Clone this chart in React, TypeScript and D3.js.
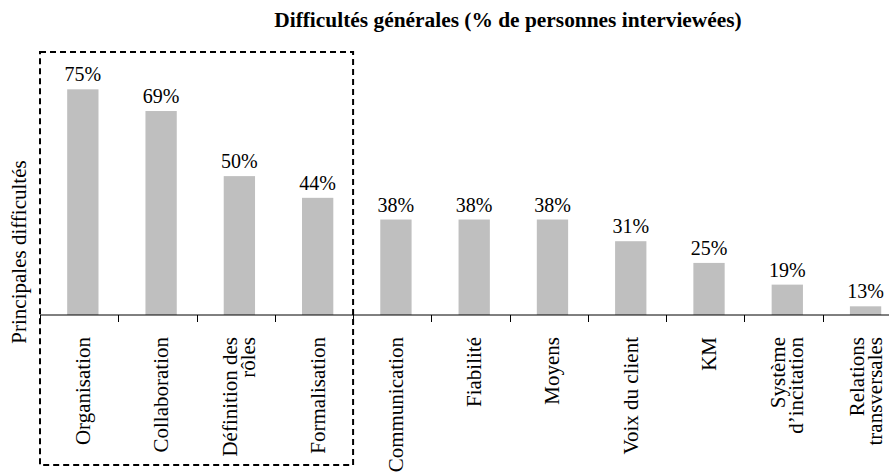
import { useEffect, useRef } from 'react'
import * as d3 from 'd3'

const categories = [
  'Organisation',
  'Collaboration',
  'Définition des rôles',
  'Formalisation',
  'Communication',
  'Fiabilité',
  'Moyens',
  'Voix du client',
  'KM',
  'Système d’incitation',
  'Relations transversales',
]

// axis label lines, as they wrap in the picture
const labelLines = [
  ['Organisation'],
  ['Collaboration'],
  ['Définition des', 'rôles'],
  ['Formalisation'],
  ['Communication'],
  ['Fiabilité'],
  ['Moyens'],
  ['Voix du client'],
  ['KM'],
  ['Système', 'd’incitation'],
  ['Relations', 'transversales'],
]

// share of interviewees (16 people)
const values = [75, 68.75, 50, 43.75, 37.5, 37.5, 37.5, 31.25, 25, 18.75, 12.5]

const highlighted = ['Organisation', 'Collaboration', 'Définition des rôles', 'Formalisation']

const title = 'Difficultés générales (% de personnes interviewées)'
const yTitle = 'Principales difficultés'

const FONT = 'Liberation Serif, Times New Roman, serif'

export default function App() {
  const svgRef = useRef<SVGSVGElement>(null)
  const width = 889
  const height = 472

  useEffect(() => {
    if (!svgRef.current) return
    const svg = d3.select(svgRef.current)
    svg.selectAll('*').remove()

    const baseY = 315
    const x = d3.scaleBand<string>()
      .domain(categories)
      .range([40, 901])
      .paddingInner(0)
      .paddingOuter(0)

    const y = d3.scaleLinear()
      .domain([10, 80])
      .range([baseY, baseY - 70 * 3.472])

    const bw = x.bandwidth()
    const barW = bw * 0.4
    const shift = 3.7
    const center = (c: string) => (x(c) ?? 0) + bw / 2 + shift

    svg.append('rect')
      .attr('width', width)
      .attr('height', height)
      .attr('fill', '#fff')

    const root = svg.append('g').attr('font-family', FONT)

    root.append('text')
      .attr('x', 508)
      .attr('y', 27)
      .attr('text-anchor', 'middle')
      .attr('font-size', 21.4)
      .attr('font-weight', 'bold')
      .text(title)

    root.append('text')
      .attr('transform', `translate(26,252) rotate(-90)`)
      .attr('text-anchor', 'middle')
      .attr('font-size', 21)
      .text(yTitle)

    // bars
    root.append('g')
      .selectAll('rect')
      .data(categories)
      .join('rect')
      .attr('x', d => center(d) - barW / 2)
      .attr('width', barW)
      .attr('y', (d, i) => y(values[i]))
      .attr('height', (d, i) => baseY - y(values[i]))
      .attr('fill', '#bfbfbf')

    // value labels
    root.append('g')
      .selectAll('text')
      .data(categories)
      .join('text')
      .attr('x', d => center(d))
      .attr('y', (d, i) => y(values[i]) - 8)
      .attr('text-anchor', 'middle')
      .attr('font-size', 20)
      .text((d, i) => `${Math.round(values[i])}%`)

    // axis line + boundary ticks
    const axis = root.append('g')
    axis.append('line')
      .attr('x1', 40)
      .attr('x2', 901)
      .attr('y1', baseY)
      .attr('y2', baseY)
      .attr('stroke', '#000')
      .attr('stroke-width', 1)
    const bounds = [...categories.map(c => x(c) ?? 0), 901]
    axis.selectAll('line.tick')
      .data(bounds)
      .join('line')
      .attr('class', 'tick')
      .attr('x1', d => Math.round(d) + 0.5)
      .attr('x2', d => Math.round(d) + 0.5)
      .attr('y1', baseY)
      .attr('y2', baseY + 7)
      .attr('stroke', '#000')

    // category labels, rotated
    const lineGap = 18
    categories.forEach((c, i) => {
      const lines = labelLines[i]
      const cx = center(c)
      lines.forEach((ln, j) => {
        const off = (j - (lines.length - 1) / 2) * lineGap
        root.append('text')
          .attr('transform', `translate(${cx + off + 7},337) rotate(-90)`)
          .attr('text-anchor', 'end')
          .attr('font-size', 21)
          .text(ln)
      })
    })

    // dashed box round the main difficulties
    const left = x(highlighted[0]) ?? 0
    const right = (x(highlighted[highlighted.length - 1]) ?? 0) + bw
    root.append('rect')
      .attr('x', left)
      .attr('y', 52)
      .attr('width', right - left)
      .attr('height', 465 - 52)
      .attr('fill', 'none')
      .attr('stroke', '#000')
      .attr('stroke-width', 2)
      .attr('stroke-dasharray', '6,4')
  }, [])

  return (
    <svg
      ref={svgRef}
      width={width}
      height={height}
      style={{ position: 'absolute', left: 0, top: 0 }}
    />
  )
}
